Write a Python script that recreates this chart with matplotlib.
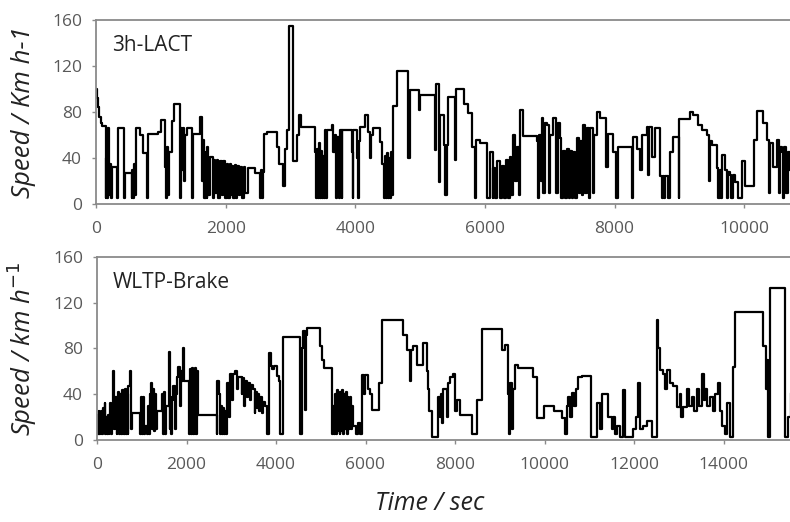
import matplotlib.pyplot as plt

plt.rcParams['font.family'] = ['Open Sans', 'DejaVu Sans']

# 3h-LACT speed trace (time in s, speed in km/h)
lact_t = [0, 15, 30, 50, 70, 100, 150, 160, 170, 180, 192, 205, 220, 235, 250, 320, 345, 432, 440, 550,
          560, 572, 584, 600, 617, 680, 730, 782, 808, 962, 998, 1065, 1080, 1095, 1110, 1125, 1168, 1204, 1296, 1310,
          1325, 1340, 1355, 1370, 1399, 1476, 1502, 1605, 1640, 1656, 1670, 1690, 1705, 1720, 1734, 1759, 1800, 1815, 1836, 1860,
          1880, 1914, 1940, 1960, 1990, 2016, 2040, 2060, 2080, 2100, 2119, 2140, 2160, 2180, 2200, 2222, 2260, 2280, 2300, 2351,
          2454, 2531, 2545, 2560, 2575, 2593, 2634, 2788, 2830, 2890, 2917, 2950, 2983, 3035, 3100, 3130, 3170, 3380, 3390, 3405,
          3420, 3435, 3450, 3465, 3480, 3495, 3510, 3534, 3555, 3565, 3637, 3660, 3688, 3710, 3725, 3745, 3765, 3790, 3800, 3843,
          3946, 3960, 3971, 4020, 4040, 4050, 4074, 4151, 4203, 4230, 4250, 4280, 4383, 4410, 4440, 4460, 4475, 4490, 4505, 4520,
          4535, 4555, 4570, 4589, 4640, 4820, 4840, 4990, 5005, 5231, 5250, 5290, 5310, 5370, 5390, 5410, 5437, 5540, 5560, 5680,
          5746, 5797, 5845, 5864, 5926, 6039, 6080, 6120, 6132, 6160, 6193, 6230, 6260, 6290, 6322, 6350, 6380, 6400, 6440, 6470,
          6492, 6520, 6543, 6584, 6800, 6820, 6840, 6860, 6878, 6900, 6920, 6955, 6990, 7010, 7058, 7100, 7120, 7160, 7180, 7212,
          7240, 7260, 7290, 7310, 7340, 7360, 7390, 7418, 7450, 7470, 7500, 7521, 7550, 7570, 7600, 7623, 7660, 7690, 7726, 7770,
          7804, 7870, 7906, 7983, 8020, 8060, 8266, 8282, 8344, 8395, 8421, 8498, 8510, 8524, 8575, 8626, 8704, 8730, 8745, 8770,
          8781, 8820, 8858, 8909, 8987, 9002, 9167, 9218, 9280, 9347, 9424, 9460, 9480, 9501, 9578, 9600, 9620, 9640, 9655, 9707,
          9730, 9750, 9784, 9800, 9820, 9861, 9912, 9964, 10015, 10144, 10195, 10298, 10350, 10380, 10401, 10452, 10504, 10530, 10550, 10581,
          10600, 10620, 10650, 10680, 10710]
lact_v = [100, 92, 84, 76, 70, 68, 5, 40, 5, 38, 66, 8, 35, 5, 32, 5, 66, 5, 27, 5,
          30, 5, 35, 8, 66, 60, 44, 5, 61, 63, 73, 32, 5, 50, 8, 45, 72, 87, 5, 66,
          30, 66, 20, 60, 66, 5, 61, 76, 20, 56, 5, 45, 5, 50, 8, 41, 5, 38, 10, 38,
          5, 37, 8, 37, 5, 35, 5, 35, 8, 33, 5, 34, 5, 33, 8, 32, 5, 32, 10, 31,
          27, 5, 30, 5, 28, 61, 63, 50, 35, 16, 48, 64, 155, 37, 60, 77, 67, 45, 5, 48,
          5, 53, 5, 46, 5, 42, 5, 64, 5, 64, 69, 45, 60, 5, 58, 5, 64, 5, 64, 64,
          45, 5, 64, 40, 5, 55, 67, 77, 63, 40, 60, 66, 54, 35, 5, 42, 5, 44, 5, 40,
          5, 45, 8, 85, 116, 40, 99, 82, 95, 47, 104, 19, 77, 51, 8, 51, 93, 38, 100, 87,
          79, 50, 5, 56, 53, 5, 45, 5, 31, 5, 37, 5, 33, 5, 38, 5, 41, 8, 60, 20,
          50, 8, 82, 59, 55, 5, 60, 20, 75, 10, 70, 69, 10, 60, 75, 10, 70, 57, 5, 46,
          5, 48, 5, 46, 5, 45, 5, 57, 10, 55, 8, 69, 10, 66, 5, 66, 10, 60, 80, 75,
          75, 32, 61, 45, 5, 50, 5, 58, 48, 30, 60, 67, 25, 67, 41, 66, 24, 5, 24, 5,
          24, 5, 45, 58, 5, 74, 80, 77, 69, 64, 60, 20, 55, 51, 31, 5, 30, 5, 43, 30,
          5, 28, 25, 5, 25, 19, 5, 37, 16, 56, 81, 70, 56, 10, 53, 32, 56, 10, 50, 45,
          5, 50, 10, 45, 30]

# WLTP-Brake speed trace
wltp_t = [0, 10, 25, 40, 55, 70, 85, 100, 115, 130, 150, 170, 185, 201, 220, 240, 260, 275, 291, 320,
          340, 365, 385, 402, 440, 455, 477, 500, 520, 540, 560, 575, 588, 610, 630, 650, 670, 685, 700, 740,
          760, 775, 961, 975, 1000, 1020, 1050, 1073, 1110, 1147, 1170, 1190, 1210, 1230, 1250, 1270, 1290, 1310, 1333, 1445,
          1470, 1490, 1510, 1540, 1600, 1625, 1631, 1660, 1680, 1706, 1740, 1760, 1780, 1810, 1850, 1870, 1892, 1920, 1940, 2060,
          2078, 2100, 2120, 2140, 2160, 2180, 2200, 2220, 2240, 2265, 2674, 2690, 2720, 2740, 2760, 2790, 2810, 2840, 2860, 2880,
          2898, 2940, 2972, 3010, 3040, 3084, 3130, 3150, 3196, 3230, 3250, 3290, 3310, 3350, 3380, 3420, 3450, 3494, 3520, 3540,
          3570, 3590, 3620, 3650, 3680, 3717, 3760, 3800, 3840, 3880, 3903, 3950, 4015, 4060, 4090, 4149, 4537, 4574, 4600, 4648,
          4670, 4685, 4983, 5030, 5070, 5170, 5244, 5281, 5300, 5320, 5340, 5360, 5380, 5400, 5420, 5440, 5460, 5480, 5500, 5520,
          5540, 5560, 5580, 5600, 5620, 5650, 5680, 5700, 5728, 5790, 5830, 5870, 5915, 5960, 5980, 6060, 6101, 6150, 6213, 6300,
          6362, 6845, 6919, 6994, 7010, 7068, 7143, 7292, 7366, 7400, 7426, 7478, 7627, 7660, 7680, 7700, 7739, 7813, 7850, 7888,
          7962, 8000, 8037, 8111, 8372, 8484, 8595, 9042, 9117, 9191, 9210, 9240, 9270, 9303, 9340, 9415, 9750, 9825, 9989, 10219,
          10383, 10458, 10500, 10532, 10560, 10607, 10660, 10700, 10756, 10830, 11039, 11165, 11230, 11292, 11426, 11501, 11540, 11580, 11612, 11687,
          11761, 11799, 11985, 12040, 12097, 12130, 12208, 12283, 12395, 12506, 12540, 12581, 12655, 12700, 12730, 12800, 12879, 12953, 13028, 13060,
          13100, 13177, 13230, 13288, 13340, 13400, 13450, 13512, 13560, 13586, 13640, 13698, 13760, 13800, 13884, 13930, 13959, 14030, 14071, 14145,
          14220, 14257, 14890, 14940, 14980, 15002, 15039, 15374, 15450, 15500]
wltp_v = [15, 22, 5, 25, 5, 20, 5, 25, 5, 28, 8, 32, 5, 20, 5, 22, 5, 10, 32, 5,
          30, 60, 10, 38, 5, 35, 42, 5, 40, 5, 44, 5, 44, 5, 45, 5, 40, 5, 47, 60,
          10, 24, 5, 38, 5, 38, 5, 12, 5, 30, 5, 40, 50, 10, 45, 8, 40, 10, 25, 40,
          5, 42, 5, 30, 77, 10, 38, 5, 35, 47, 10, 40, 55, 64, 30, 60, 52, 80, 52, 5,
          62, 5, 63, 5, 60, 5, 63, 5, 60, 22, 5, 52, 40, 5, 30, 5, 28, 5, 25, 5,
          50, 20, 58, 35, 58, 60, 45, 55, 55, 40, 54, 30, 52, 38, 50, 35, 48, 45, 24, 42,
          28, 40, 25, 38, 24, 33, 30, 5, 76, 65, 62, 65, 56, 52, 5, 90, 5, 80, 95, 26,
          92, 98, 82, 70, 63, 63, 5, 30, 5, 40, 5, 44, 8, 38, 5, 42, 8, 44, 5, 40,
          10, 42, 5, 38, 10, 38, 10, 30, 12, 5, 15, 5, 57, 40, 57, 45, 40, 26, 26, 50,
          105, 92, 79, 52, 79, 82, 66, 85, 60, 45, 25, 3, 38, 20, 40, 15, 45, 20, 50, 55,
          58, 25, 35, 22, 5, 35, 97, 79, 83, 40, 5, 50, 10, 45, 66, 63, 55, 19, 30, 25,
          19, 5, 30, 38, 20, 41, 30, 45, 55, 56, 3, 32, 10, 40, 20, 10, 20, 5, 12, 3,
          44, 3, 10, 20, 50, 10, 12, 17, 3, 105, 80, 61, 58, 45, 61, 50, 47, 29, 40, 20,
          29, 45, 30, 38, 25, 45, 30, 58, 35, 45, 30, 38, 25, 40, 50, 25, 12, 5, 32, 3,
          64, 112, 82, 45, 70, 3, 133, 3, 20, 40]

W, H = 790, 522
fig = plt.figure(figsize=(W / 100, H / 100), dpi=100)

grey = '#8a8a8a'
tick_grey = '#595959'

ax1 = fig.add_axes([96 / W, 1 - 204 / H, 713 / W, 184 / H])
ax2 = fig.add_axes([97 / W, 1 - 440 / H, 716 / W, 183 / H])

ax1.plot(lact_t, lact_v, drawstyle='steps-post', color='#000000', lw=1.6)
ax2.plot(wltp_t, wltp_v, drawstyle='steps-post', color='#000000', lw=1.6)

ax1.set_xlim(0, 11000)
ax2.set_xlim(0, 16000)
ax1.set_xticks([0, 2000, 4000, 6000, 8000, 10000])
ax2.set_xticks([0, 2000, 4000, 6000, 8000, 10000, 12000, 14000])

for ax, lab in [(ax1, '3h-LACT'), (ax2, 'WLTP-Brake')]:
    ax.set_ylim(0, 160)
    ax.set_yticks([0, 40, 80, 120, 160])
    for s in ax.spines.values():
        s.set_color(grey)
        s.set_linewidth(1.3)
    ax.tick_params(colors=grey, labelcolor=tick_grey, labelsize=12.5, length=3, width=1)
    ax.tick_params(axis='x', pad=9)
    ax.tick_params(axis='y', pad=7)
    ax.text(16 / 713, 0.86, lab, transform=ax.transAxes, fontsize=15, color='#222222', va='center')

ax1.set_ylabel('Speed / Km h-1', fontsize=18.5, style='italic', color='#222222')
ax2.set_ylabel('Speed / km h$^{-1}$', fontsize=18.5, style='italic', color='#222222')
ax1.yaxis.set_label_coords(-60 / 713, 0.5)
ax2.yaxis.set_label_coords(-58 / 716, 0.5)
fig.text(430 / W, 1 - 503 / H, 'Time / sec', fontsize=18, style='italic', color='#222222', ha='center', va='center')

fig.savefig('out.png', dpi=100)
